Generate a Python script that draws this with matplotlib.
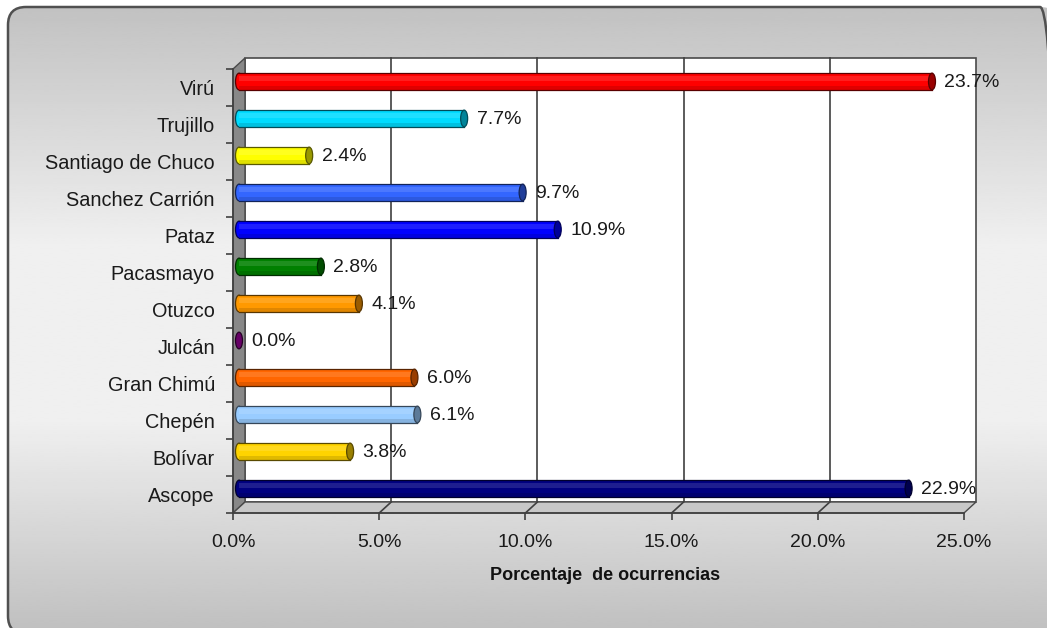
import numpy as np
import matplotlib
matplotlib.use('Agg')
import matplotlib.pyplot as plt
from matplotlib.patches import Rectangle, Ellipse, Polygon, FancyBboxPatch
from matplotlib.lines import Line2D
from matplotlib.transforms import offset_copy, IdentityTransform
from matplotlib.colors import to_rgb

plt.rcParams['font.family'] = ['Liberation Sans', 'DejaVu Sans']

# provincias de arriba hacia abajo
provincias = ['Virú', 'Trujillo', 'Santiago de Chuco', 'Sanchez Carrión', 'Pataz',
              'Pacasmayo', 'Otuzco', 'Julcán', 'Gran Chimú', 'Chepén', 'Bolívar', 'Ascope']
porcentajes = [23.7, 7.7, 2.4, 9.7, 10.9, 2.8, 4.1, 0.0, 6.0, 6.1, 3.8, 22.9]
colores = ['#ff0000', '#00dcff', '#ffff00', '#3366ff', '#0000ff', '#008000',
           '#ff9900', '#660066', '#ff6600', '#99ccff', '#ffd400', '#000080']
x_ticks = [0, 5, 10, 15, 20, 25]

W, H = 1047, 628
fig = plt.figure(figsize=(W / 100, H / 100), dpi=100)
fig.patch.set_facecolor('white')

# fondo: marco redondeado con degradado gris (coordenadas en pixeles, origen abajo)
bg = fig.add_axes([0, 0, 1, 1])
bg.set_xlim(0, W)
bg.set_ylim(0, H)
bg.axis('off')
frame = FancyBboxPatch((8, -6), 1050, 627, boxstyle='round,pad=0,rounding_size=18',
                       fc='none', ec='#505050', lw=1.8, zorder=2)
bg.add_patch(frame)
yy = np.linspace(0, 1, 300)
grad = np.interp(yy, [0, 0.38, 0.66, 1], [0.76, 0.94, 0.94, 0.75])
img = bg.imshow(grad[:, None], cmap='gray', vmin=0, vmax=1, extent=[8, 1058, -6, 621],
                origin='upper', aspect='auto', interpolation='bilinear', zorder=1)
img.set_clip_path(frame)

# area del grafico (plano frontal)
ax = fig.add_axes([233 / W, (H - 513) / H, 731 / W, 444 / H])
ax.set_xlim(0, 25)
ax.set_ylim(11.5, -0.5)
ax.patch.set_visible(False)
for s in ['top', 'right']:
    ax.spines[s].set_visible(False)
for s in ['left', 'bottom']:
    ax.spines[s].set_color('#404040')
    ax.spines[s].set_linewidth(1.2)

back = offset_copy(ax.transData, fig=fig, x=12, y=11, units='dots')
mid = offset_copy(ax.transData, fig=fig, x=6, y=6, units='dots')
ident = IdentityTransform()
edge_c = '#4a4a4a'

# pared del fondo y lineas de division
ax.add_patch(Rectangle((0, -0.5), 25, 12, transform=back, fc='white', ec=edge_c,
                       lw=1.2, clip_on=False, zorder=0))
for t in x_ticks[1:-1]:
    ax.plot([t, t], [-0.5, 11.5], transform=back, color='#404040', lw=1.2,
            clip_on=False, zorder=1)

# pared izquierda
f_left = ax.transData.transform([(0, -0.5), (0, 11.5)])
b_left = back.transform([(0, -0.5), (0, 11.5)])
ax.add_patch(Polygon([f_left[0], b_left[0], b_left[1], f_left[1]], closed=True,
                     transform=ident, fc='#888888', ec=edge_c, lw=1.0, clip_on=False, zorder=1))

# piso
f_bot = ax.transData.transform([(0, 11.5), (25, 11.5)])
b_bot = back.transform([(0, 11.5), (25, 11.5)])
ax.add_patch(Polygon([f_bot[0], b_bot[0], b_bot[1], f_bot[1]], closed=True,
                     transform=ident, fc='#c8c8c8', ec=edge_c, lw=1.0, clip_on=False, zorder=1))
for t in x_ticks[1:-1]:
    p0 = back.transform((t, 11.5))
    p1 = ax.transData.transform((t, 11.5))
    ax.add_line(Line2D([p0[0], p1[0]], [p0[1], p1[1]], transform=ident,
                       color='#404040', lw=1.2, clip_on=False, zorder=2))

# barras cilindricas
h = 0.45
cap_w = 7 / (731 / 25)
for i, (v, c) in enumerate(zip(porcentajes, colores)):
    rgb = np.array(to_rgb(c))
    dark = tuple(rgb * 0.6)
    edge = tuple(rgb * 0.35)
    if v > 0:
        ax.add_patch(Ellipse((0, i), cap_w, h, transform=mid, fc=c, ec=edge, lw=0.9,
                             clip_on=False, zorder=3))
        ax.add_patch(Rectangle((0, i - h / 2), v, h, transform=mid, fc=c, ec='none',
                               clip_on=False, zorder=4))
        ax.add_patch(Rectangle((0, i - h * 0.32), v, h * 0.28, transform=mid, fc='white',
                               ec='none', alpha=0.12, clip_on=False, zorder=4))
        ax.add_patch(Rectangle((0, i + h * 0.28), v, h * 0.22, transform=mid, fc='black',
                               ec='none', alpha=0.12, clip_on=False, zorder=4))
        ax.plot([0, v], [i - h / 2, i - h / 2], transform=mid, color=edge, lw=0.9,
                clip_on=False, zorder=4)
        ax.plot([0, v], [i + h / 2, i + h / 2], transform=mid, color=edge, lw=0.9,
                clip_on=False, zorder=4)
    ax.add_patch(Ellipse((v, i), cap_w, h, transform=mid, fc=dark if v > 0 else c,
                         ec=edge, lw=0.9, clip_on=False, zorder=5))
    ax.annotate(f'{v:.1f}%', xy=(v, i), xycoords=mid, xytext=(9, -1),
                textcoords='offset points', ha='left', va='center', fontsize=14,
                color='#1a1a1a', zorder=6, annotation_clip=False)

# ejes
ax.set_xticks(x_ticks)
ax.set_xticklabels([f'{t:.1f}%' for t in x_ticks])
ax.tick_params(axis='x', direction='out', length=5, width=1.2, color='#404040',
               pad=10, labelsize=14, labelcolor='#1a1a1a')
ax.set_yticks(range(len(provincias)))
ax.set_yticklabels(provincias)
ax.tick_params(axis='y', which='major', length=0, pad=13, labelsize=14.3, labelcolor='#1a1a1a')
ax.set_yticks(np.arange(-0.5, len(provincias), 1), minor=True)
ax.tick_params(axis='y', which='minor', direction='out', length=5, width=1.2, color='#404040')

ax.set_xlabel('Porcentaje  de ocurrencias', fontsize=13, fontweight='bold', color='#111111')
ax.xaxis.set_label_coords((605 - 233) / 731, (513 - 567) / 444)

fig.savefig('out.png', dpi=100)
